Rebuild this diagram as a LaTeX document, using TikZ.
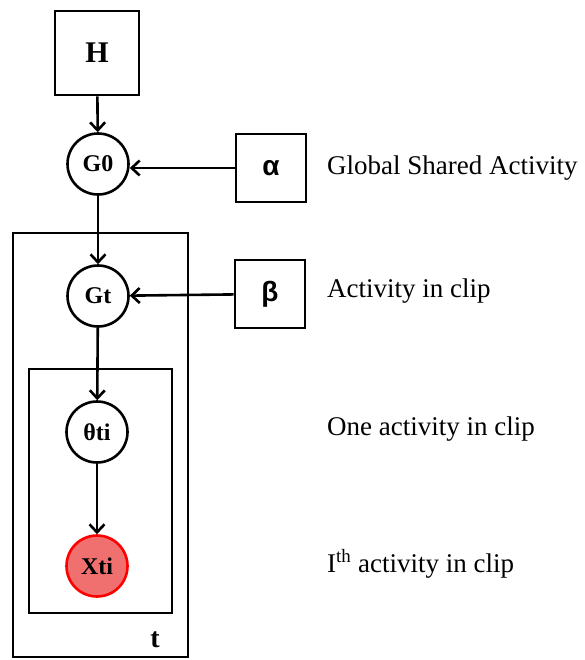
\documentclass[tikz,border=0pt]{standalone}
\usepackage{fontspec}
\setmainfont{Liberation Serif}
\newfontfamily\greekfont{Liberation Sans}
\usetikzlibrary{arrows.meta}
\definecolor{obsfill}{RGB}{240,112,112}

\begin{document}
\begin{tikzpicture}[x=1pt,y=-1pt]
    \tikzstyle{every node}=[inner sep=0pt, font=\fontsize{24}{28}\selectfont\bfseries, text=black]
    \tikzstyle{latent}=[circle, draw=black, line width=2.6pt, minimum size=61pt]
    \tikzstyle{observed}=[latent, draw=red, fill=obsfill]
    \tikzstyle{param}=[rectangle, draw=black, line width=2.6pt, minimum width=70pt, minimum height=68pt, font=\fontsize{28}{32}\selectfont\greekfont\bfseries]
    \tikzstyle{plate}=[black, line width=2.6pt]
    \tikzstyle{edge}=[black, line width=2.6pt, -{Straight Barb[length=8pt,width=15pt]}]
    \tikzstyle{caption}=[anchor=base west, font=\fontsize{27}{32}\selectfont]

    \useasboundingbox (0,0) rectangle (584,660);

    \node[param, minimum width=84pt, minimum height=84pt, font=\fontsize{30}{34}\selectfont\bfseries] (H) at (97,53) {H};
    \node[latent] (G0) at (98,164) {G0};
    \node[param] (alpha) at (271,168) {α};
    \node[latent] (Gt) at (98,296) {Gt};
    \node[param] (beta) at (270,294) {β};
    \node[latent] (theta) at (97,432) {θti};
    \node[observed] (X) at (97,566) {Xti};

    % plates
    \draw[plate] (13,233) rectangle (188,657);
    \draw[plate] (29,369) rectangle (172,613);
    \node[font=\fontsize{28}{32}\selectfont\bfseries] (t) at (155,640) {t};

    \draw[edge] (H) -- (G0);
    \draw[edge] (G0) -- (Gt);
    \draw[edge] (Gt) -- (theta);
    \draw[edge] (theta) -- (X);
    \draw[edge] (alpha) -- (G0.east |- alpha);
    \draw[edge] (beta) -- (Gt);

    \node[caption] (capG0) at (327,175) {Global Shared Activity};
    \node[caption] (capGt) at (327,297) {Activity in clip};
    \node[caption] (captheta) at (327,435) {One activity in clip};
    \node[caption] (capX) at (327,572) {I\textsuperscript{th} activity in clip};
\end{tikzpicture}
\end{document}
